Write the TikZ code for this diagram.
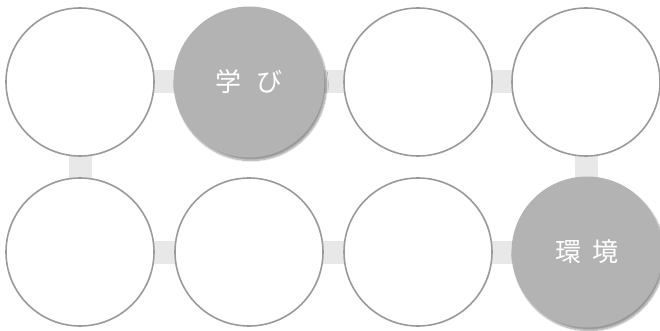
\documentclass[tikz,border=0pt]{standalone}
\usepackage{fontspec}
\newfontfamily\jpfont{Noto Sans CJK JP}
\usepackage{tikz}
\usetikzlibrary{backgrounds,shadows.blur}
\definecolor{ringGray}{HTML}{9A9A9A}
\definecolor{fillGray}{HTML}{B3B3B3}
\definecolor{barGray}{HTML}{E8E8E8}

\begin{document}
\begin{tikzpicture}[x=1pt, y=-1pt,
  ring/.style={circle,draw=ringGray,line width=1.6pt,fill=white,minimum size=148pt,inner sep=0pt},
  hot/.style={circle,fill=fillGray,minimum size=151pt,inner sep=0pt,text=white,
    font=\jpfont\fontsize{26pt}{30pt}\selectfont,
    blur shadow={shadow xshift=2pt,shadow yshift=-3pt,shadow blur steps=10,shadow opacity=40}},
  bar/.style={barGray,line width=23pt}]
\useasboundingbox (0,0) rectangle (660,331);
% top row
\node[ring] (r1) at (80,82) {};
\node[hot] (r2) at (249,82) {学\hspace{0.55em}び};
\node[ring] (r3) at (418,82) {};
\node[ring] (r4) at (586,82) {};
% bottom row
\node[ring] (r5) at (80,252) {};
\node[ring] (r6) at (249,252) {};
\node[ring] (r7) at (418,252) {};
\node[hot] (r8) at (587,252) {環\hspace{0.45em}境};
% links behind the circles
\begin{scope}[on background layer]
  \draw[bar] (r1.center) -- (r2.center) -- (r3.center) -- (r4.center);
  \draw[bar] (r5.center) -- (r6.center) -- (r7.center) -- (r8.center);
  \draw[bar] (r1.center) -- (r5.center);
  \draw[bar] (r4.center) -- (r8.center);
\end{scope}
\end{tikzpicture}
\end{document}
